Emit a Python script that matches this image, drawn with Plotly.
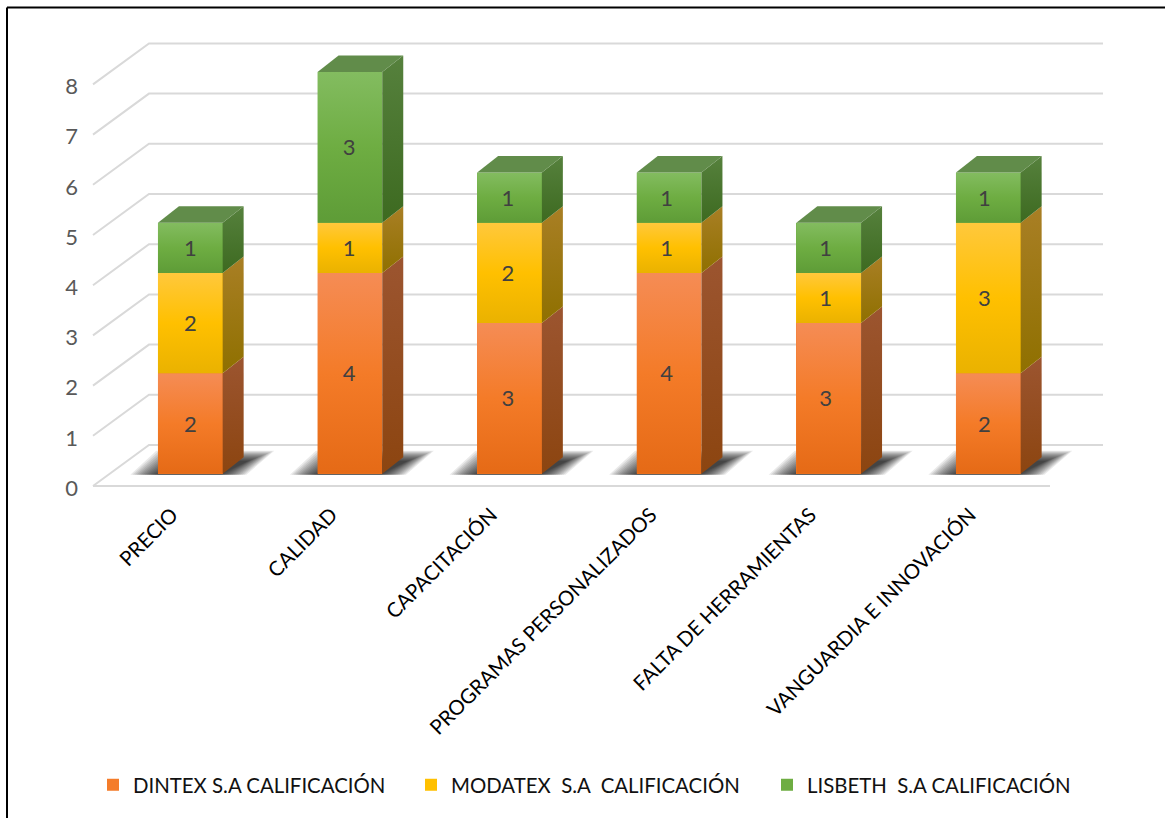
import plotly.graph_objects as go

categories = ["PRECIO", "CALIDAD", "CAPACITACIÓN", "PROGRAMAS PERSONALIZADOS",
              "FALTA DE HERRAMIENTAS", "VANGUARDIA E INNOVACIÓN"]
dintex = [2, 4, 3, 4, 3, 2]
modatex = [2, 1, 2, 1, 1, 3]
lisbeth = [1, 3, 1, 1, 1, 1]
y_ticks = [0, 1, 2, 3, 4, 5, 6, 7, 8]
series_names = ["DINTEX S.A CALIFICACIÓN", "MODATEX \u00a0S.A \u00a0CALIFICACIÓN",
                "LISBETH \u00a0S.A CALIFICACIÓN"]

FONT = "Lato"
W, H = 1165, 818
L_PX, R_PX, T_PX, B_PX = 85, 1110, 30, 498   # plot rectangle in page pixels
UX, UY = 159.6, 50.2                        # pixels per category / per value
X0_PX, Y0_PX = 93, 486                      # front-floor origin
BX_PX, BY_PX = 190.3, 473.7                 # first bar centre / bar floor
WALL_DX, WALL_DY = 56 / UX, 41 / UY         # depth of the walls
BAR_W = 64.7 / UX
DX, DY = 21 / UX, 16.5 / UY                 # depth of the columns
FLOOR_END = (1050 - X0_PX) / UX
BACK_END = (1103 - X0_PX) / UX
TO_X1 = (BX_PX - X0_PX) / UX                # overlay → primary axis offset
TO_Y1 = (Y0_PX - BY_PX) / UY

styles = [
    dict(mid="#F47C2A", front=["#E56A16", "#F47B28", "#F58C55"], side=["#8C4510", "#9C5530"]),
    dict(mid="#FFC000", front=["#EAB200", "#FFC000", "#FFC83C"], side=["#8F7000", "#A97F25"]),
    dict(mid="#6EAD42", front=["#5E9C37", "#6EAD42", "#83BC60"], side=["#3D6A20", "#56813D"]),
]
TOP_COLOR = "#618C4A"
GRID = "#D9D9D9"
LEGEND_TEXT_X = [134, 452, 808]


def scale(colors):
    return [[k / (len(colors) - 1), c] for k, c in enumerate(colors)]


fig = go.Figure()

# walls and floor grid on the primary axes
for v in y_ticks:
    fig.add_trace(go.Scatter(
        x=[0, WALL_DX, BACK_END], y=[v, v + WALL_DY, v + WALL_DY],
        mode="lines", line=dict(color=GRID, width=2), showlegend=False, hoverinfo="skip"))
fig.add_trace(go.Scatter(
    x=[0, FLOOR_END], y=[0, 0],
    mode="lines", line=dict(color=GRID, width=2), showlegend=False, hoverinfo="skip"))

# soft floor shadows
for i in range(len(categories)):
    c = i + TO_X1
    base = TO_Y1
    for inset in range(-14, 14, 2):
        top = (23 - 0.4 * (inset + 14)) / UY
        fig.add_trace(go.Scatter(
            x=[c + (-46 + inset) / UX, c + (42 - inset) / UX,
               c + (70 - inset) / UX, c + (-20 + inset) / UX],
            y=[base - 1 / UY, base - 1 / UY, base + top, base + top],
            mode="none", fill="toself", fillcolor="rgba(0,0,0,0.085)",
            showlegend=False, hoverinfo="skip"))

# columns on the overlay axes, so they use the true values
values = [dintex, modatex, lisbeth]
xs = list(range(len(categories)))
bases = [0] * len(xs)
all_bases = []
legend_ids = ["legend", "legend2", "legend3"]
for s, vals in enumerate(values):
    all_bases.append(list(bases))
    fig.add_trace(go.Bar(
        x=xs, y=vals, base=list(bases), width=BAR_W, xaxis="x2", yaxis="y2",
        name=series_names[s], legend=legend_ids[s], showlegend=True,
        marker=dict(color=styles[s]["mid"], line=dict(width=0)),
        customdata=categories, hovertemplate="%{customdata}: %{y}<extra>" + series_names[s] + "</extra>"))
    bases = [b + v for b, v in zip(bases, vals)]

for s, vals in enumerate(values):
    for i, v in enumerate(vals):
        b, t = all_bases[s][i], all_bases[s][i] + v
        le, ri = i - BAR_W / 2, i + BAR_W / 2
        # shaded front face
        fig.add_trace(go.Scatter(
            x=[le, ri, ri, le], y=[b, b, t, t], xaxis="x2", yaxis="y2",
            mode="none", fill="toself",
            fillgradient=dict(type="vertical", colorscale=scale(styles[s]["front"]), start=b, stop=t),
            showlegend=False, hoverinfo="skip"))
        # side face
        fig.add_trace(go.Scatter(
            x=[ri, ri + DX, ri + DX, ri], y=[b, b + DY, t + DY, t], xaxis="x2", yaxis="y2",
            mode="none", fill="toself",
            fillgradient=dict(type="vertical", colorscale=scale(styles[s]["side"]), start=b, stop=t + DY),
            showlegend=False, hoverinfo="skip"))

# top faces
for i, t in enumerate(bases):
    le, ri = i - BAR_W / 2, i + BAR_W / 2
    fig.add_trace(go.Scatter(
        x=[le, ri, ri + DX, le + DX], y=[t, t, t + DY, t + DY], xaxis="x2", yaxis="y2",
        mode="none", fill="toself", fillcolor=TOP_COLOR, showlegend=False, hoverinfo="skip"))

# data labels
for s, vals in enumerate(values):
    fig.add_trace(go.Scatter(
        x=[i * 0.995 for i in xs], y=[b + v / 2 - 2.5 / UY for b, v in zip(all_bases[s], vals)],
        text=[str(v) for v in vals],
        xaxis="x2", yaxis="y2", mode="text", textposition="middle center",
        textfont=dict(family=FONT, size=22, color="#404040"), showlegend=False, hoverinfo="skip"))

pw, ph = R_PX - L_PX, B_PX - T_PX


def px(x):
    return (x - L_PX) / pw


def py(y):
    return (B_PX - y) / ph


def legend_at(text_x):
    return dict(
        orientation="h", x=px(text_x - 41), xanchor="left", y=py(785), yanchor="middle",
        font=dict(family=FONT, size=20.4, color="#111111"), bgcolor="rgba(0,0,0,0)")


frame = dict(color="#000000", width=2)
fig.update_layout(
    width=W, height=H, autosize=False,
    margin=dict(l=L_PX, r=W - R_PX, t=T_PX, b=H - B_PX, pad=0),
    paper_bgcolor="white", plot_bgcolor="rgba(0,0,0,0)",
    barmode="overlay", bargap=0,
    font=dict(family=FONT),
    xaxis=dict(
        range=[(L_PX - X0_PX) / UX, (R_PX - X0_PX) / UX], showgrid=False, zeroline=False, showline=False,
        tickmode="array", tickvals=[i + 0.495 for i in xs], ticktext=categories, tickangle=-45,
        ticks="", tickfont=dict(family=FONT, size=20.4, color="#000000")),
    yaxis=dict(
        range=[(Y0_PX - B_PX) / UY, (Y0_PX - T_PX) / UY], showgrid=False, zeroline=False, showline=False,
        tickmode="array", tickvals=y_ticks, ticktext=[str(t) for t in y_ticks],
        ticks="", ticklabelstandoff=6, ticklabelshift=2,
        tickfont=dict(family=FONT, size=22, color="#595959")),
    xaxis2=dict(
        range=[(L_PX - BX_PX) / UX, (R_PX - BX_PX) / UX], overlaying="x", visible=False),
    yaxis2=dict(
        range=[(BY_PX - B_PX) / UY, (BY_PX - T_PX) / UY], overlaying="y", visible=False),
    legend=legend_at(LEGEND_TEXT_X[0]),
    legend2=legend_at(LEGEND_TEXT_X[1]),
    legend3=legend_at(LEGEND_TEXT_X[2]),
    shapes=[
        dict(type="line", xref="paper", yref="paper", x0=px(7), x1=px(W), y0=py(7.5), y1=py(7.5), line=frame),
        dict(type="line", xref="paper", yref="paper", x0=px(7), x1=px(7), y0=py(7.5), y1=py(H), line=frame),
    ],
)

fig.write_html("out.html", config={"displayModeBar": False},
               post_script="document.body.style.margin='0';document.body.style.overflow='hidden';")
